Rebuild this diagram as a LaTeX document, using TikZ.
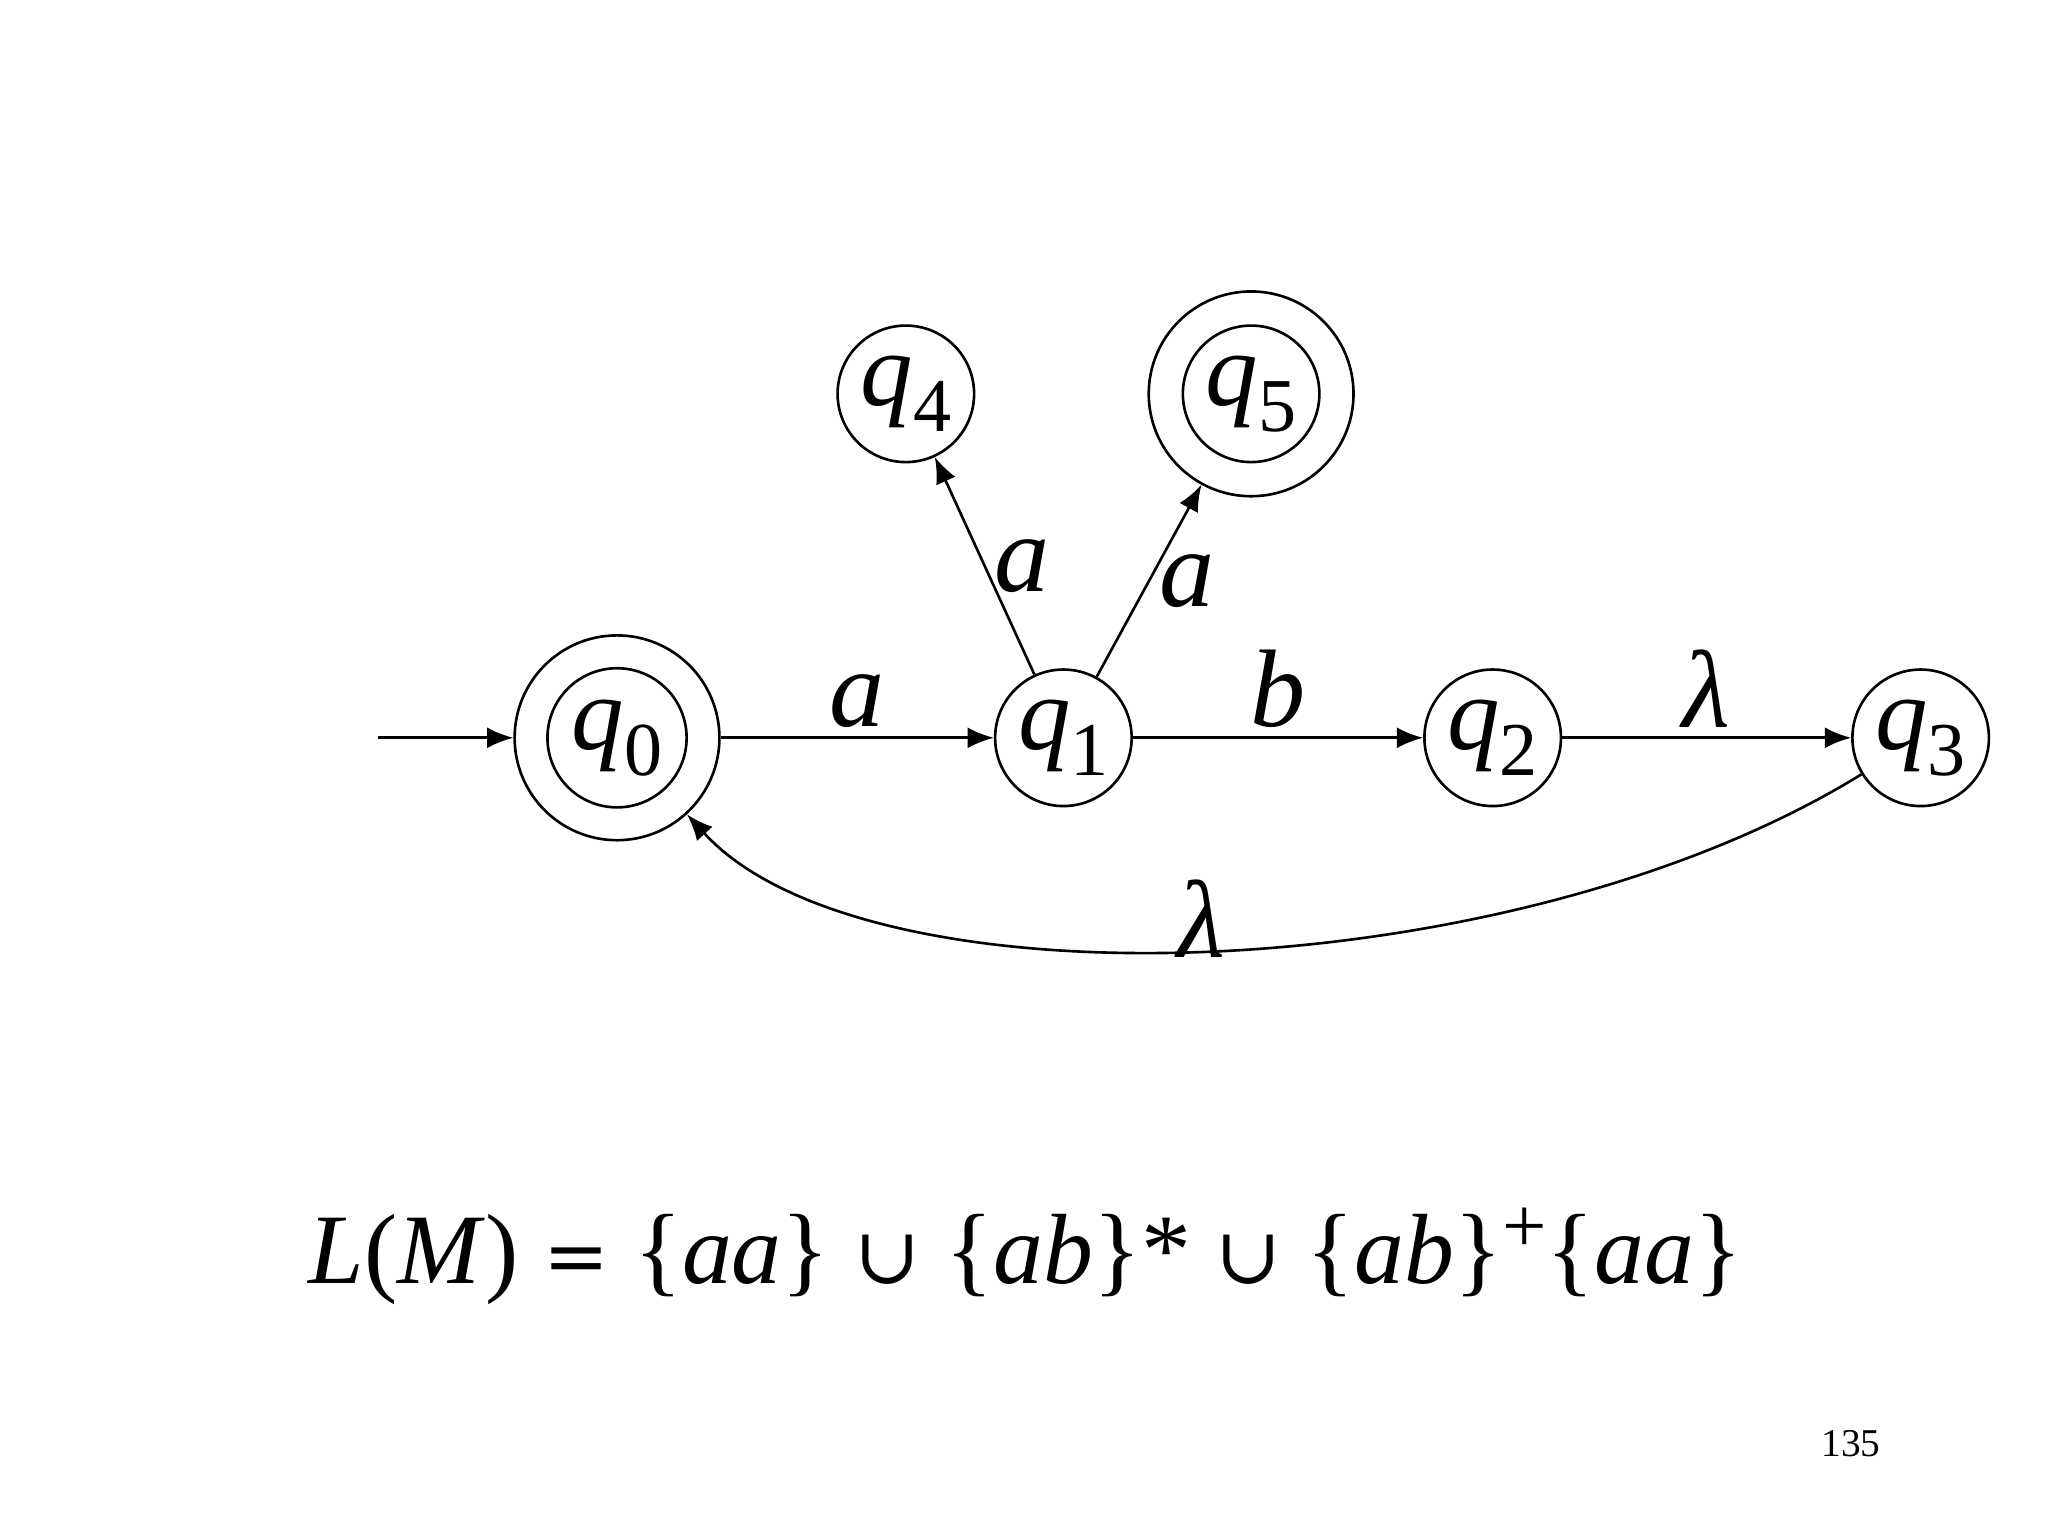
\documentclass[tikz,border=0pt]{standalone}
\usepackage{fontspec}
\setmainfont{Liberation Serif}
\newfontfamily\dvs{DejaVu Serif}
\usetikzlibrary{arrows.meta}
\begin{document}
\begin{tikzpicture}[x=0.5pt,y=-0.5pt,
  st/.style={circle,draw,line width=1pt,minimum size=52pt,inner sep=0pt,font=\fontsize{40}{48}\selectfont},
  fin/.style={st,minimum size=78pt},
  ed/.style={line width=1pt,-{Latex[length=10pt,width=8pt]}},
  lb/.style={font=\fontsize{42}{50}\selectfont\itshape}]
\useasboundingbox (0,0) rectangle (1560,1170);
\newcommand{\qs}[1]{\textit{q}\raisebox{-10pt}{\fontsize{29}{32}\selectfont #1}}
\node[fin] (q0) at (470,562) {\qs{0}};
\draw[line width=1pt] (q0) circle (26.5pt);
\node[st] (q1) at (810,562) {\qs{1}};
\node[st] (q2) at (1137,562) {\qs{2}};
\node[st] (q3) at (1463,562) {\qs{3}};
\node[st] (q4) at (690,300) {\qs{4}};
\node[fin] (q5) at (953,300) {\qs{5}};
\draw[line width=1pt] (q5) circle (26pt);
\coordinate (s) at (288,562);
\draw[ed] (s) -- (q0);
\draw[ed] (q0) -- node[lb,above=0pt] {a} (q1);
\draw[ed] (q1) -- node[lb,above=0pt] {b} (q2);
\draw[ed] (q2) -- node[lb,above=0pt] {λ} (q3);
\draw[ed] (q1) -- node[lb,right=0pt,pos=0.5] {a} (q4);
\draw[ed] (q1) -- node[lb,right=0pt,pos=0.5] {a} (q5);
\draw[ed] (q3) .. controls (1150,755) and (660,770) .. (q0);
\node[lb] (lam) at (915,700) {λ};
\node[font=\fontsize{38}{46}\selectfont,anchor=base west] (f) at (228,978)
 {\textit{L}(\textit{M}) {\dvs\fontsize{30}{36}\selectfont =} \{\textit{aa}\} {\dvs\fontsize{30}{36}\selectfont ∪} \{\textit{ab}\}* {\dvs\fontsize{30}{36}\selectfont ∪} \{\textit{ab}\}\raisebox{12pt}{\fontsize{30}{36}\selectfont +}\{\textit{aa}\}};
\node[font=\fontsize{15}{18}\selectfont] (pg) at (1410,1100) {135};
\end{tikzpicture}
\end{document}
